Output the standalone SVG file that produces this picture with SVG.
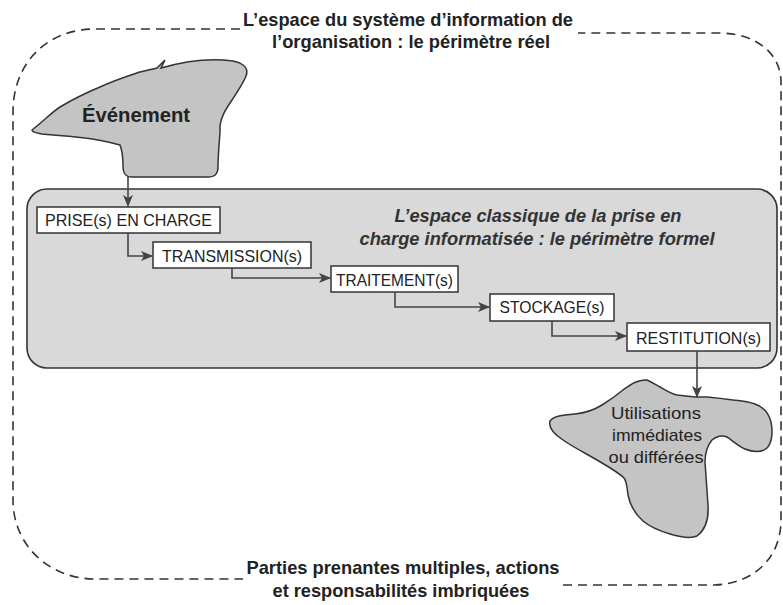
<svg xmlns="http://www.w3.org/2000/svg" width="783" height="605" viewBox="0 0 783 605">
<defs>
<marker id="arr" viewBox="0 0 12 10" refX="11" refY="5" markerWidth="12" markerHeight="10" markerUnits="userSpaceOnUse" orient="auto">
<path d="M0,0 L12,5 L0,10 L3,5 Z" fill="#444"/>
</marker>
<style>
.outer{fill:none;stroke:#333;stroke-width:1.6;stroke-dasharray:9 6}
.zone{fill:#d9d9d9;stroke:#333;stroke-width:1.6}
.blob{fill:#c4c4c4;stroke:#333;stroke-width:1.5}
.box{fill:#fff;stroke:#333;stroke-width:1.5}
.conn{fill:none;stroke:#444;stroke-width:1.6}
.t{font-family:"Liberation Sans",Arial,sans-serif;fill:#222}
.bt{font-family:"Liberation Sans",Arial,sans-serif;font-size:17px;fill:#222;text-anchor:middle}
.title{font-family:"Liberation Sans",Arial,sans-serif;font-size:19px;font-weight:bold;fill:#222;text-anchor:middle}
.it{font-family:"Liberation Sans",Arial,sans-serif;font-size:19px;font-weight:bold;font-style:italic;fill:#333;text-anchor:middle}
</style>
</defs>

<g id="perimetre-reel">
<path class="outer" d="M240,29 L95,29 C48,29 13,62 13,112 L13,500 C13,546 50,579 95,579 L243,579"/>
<path class="outer" d="M563,585 L715,585 C756,583 781,556 781,520 L781,82 C781,55 758,33 718,33 L578,33"/>
<text class="title" x="408" y="26" textLength="330" lengthAdjust="spacingAndGlyphs">L’espace du système d’information de</text>
<text class="title" x="411" y="48" textLength="278" lengthAdjust="spacingAndGlyphs">l’organisation :  le périmètre réel</text>
<text class="title" x="403" y="574" textLength="313" lengthAdjust="spacingAndGlyphs">Parties prenantes multiples, actions</text>
<text class="title" x="401" y="597" textLength="257" lengthAdjust="spacingAndGlyphs">et responsabilités imbriquées</text>
</g>

<g id="perimetre-formel">
<rect class="zone" x="27" y="189" width="750" height="179" rx="20" ry="20"/>
<text class="it" x="538" y="222" textLength="287" lengthAdjust="spacingAndGlyphs">L’espace classique de la prise en</text>
<text class="it" x="537" y="245" textLength="355" lengthAdjust="spacingAndGlyphs">charge informatisée : le périmètre formel</text>
</g>

<g id="evenement">
<path class="blob" d="M32,130 C45,120 52,112 60,107 C75,98 88,92 100,87 C115,80 128,76 140,72 L157,68 L165,60 L161,68 C185,61 212,58 233,61 C244,63 249,69 246,76 C243,84 236,94 228,106 C222,115 219,123 220,132 C219,145 218,158 218,166 C218,173 216,177 208,177 L132,177 C125,177 123,173 123,166 C123,158 122,150 120,145 C105,141 95,139 85,138 C70,136 55,135 42,134 C36,133 32,132 32,130 Z"/>
<text class="t" x="136" y="122" font-size="20" font-weight="bold" fill="#3a3a3a" text-anchor="middle" textLength="108" lengthAdjust="spacingAndGlyphs">Événement</text>
</g>

<g id="prise">
<rect class="box" x="37" y="207" width="183" height="26"/>
<text class="bt" x="128.5" y="226" textLength="167" lengthAdjust="spacingAndGlyphs">PRISE(s) EN CHARGE</text>
</g>
<g id="transmission">
<rect class="box" x="153" y="242" width="158" height="26"/>
<text class="bt" x="232" y="262" textLength="140" lengthAdjust="spacingAndGlyphs">TRANSMISSION(s)</text>
</g>
<g id="traitement">
<rect class="box" x="331" y="266" width="127" height="26"/>
<text class="bt" x="394.5" y="286" textLength="117" lengthAdjust="spacingAndGlyphs">TRAITEMENT(s)</text>
</g>
<g id="stockage">
<rect class="box" x="490" y="294" width="124" height="27"/>
<text class="bt" x="552" y="313" textLength="105" lengthAdjust="spacingAndGlyphs">STOCKAGE(s)</text>
</g>
<g id="restitution">
<rect class="box" x="627" y="323" width="143" height="28"/>
<text class="bt" x="698.5" y="344" textLength="125" lengthAdjust="spacingAndGlyphs">RESTITUTION(s)</text>
</g>

<g id="utilisations">
<path class="blob" d="M647,380 C652,382 656,385 660,387 C667,391 672,394 677,395 L695,397 L707,397 C718,398 726,399 733,400 C743,401 750,402 755,404 C764,407 769,414 771,422 C773,432 772,443 767,448 C762,453 752,452 745,449 C738,446 732,440 727,437 C722,435 717,436 712,440 C707,446 705,453 705,462 C706,475 707,490 708,505 C709,520 705,530 697,536 C690,539 680,537 670,534 C660,531 650,527 643,521 C635,514 630,505 628,495 C627,488 627,482 624,478 C618,472 607,466 597,460 C585,453 573,447 563,440 C554,434 548,428 550,421 C553,416 563,415 575,414 C585,413 594,410 602,405 C610,400 617,395 623,390 C630,385 638,379 647,380 Z"/>
<text class="t" x="656" y="419" font-size="17" text-anchor="middle" textLength="90" lengthAdjust="spacingAndGlyphs">Utilisations</text>
<text class="t" x="657" y="441" font-size="17" text-anchor="middle" textLength="90" lengthAdjust="spacingAndGlyphs">immédiates</text>
<text class="t" x="656" y="463" font-size="17" text-anchor="middle" textLength="95" lengthAdjust="spacingAndGlyphs">ou différées</text>
</g>

<g id="connectors">
<path class="conn" d="M128,177 L128,206" marker-end="url(#arr)"/>
<path class="conn" d="M128,233 L128,256 L152,256" marker-end="url(#arr)"/>
<path class="conn" d="M232,268 L232,278 L330,278" marker-end="url(#arr)"/>
<path class="conn" d="M395,292 L395,307 L489,307" marker-end="url(#arr)"/>
<path class="conn" d="M552,321 L552,336 L626,336" marker-end="url(#arr)"/>
<path class="conn" d="M697,351 L697,397" marker-end="url(#arr)"/>
</g>
</svg>
